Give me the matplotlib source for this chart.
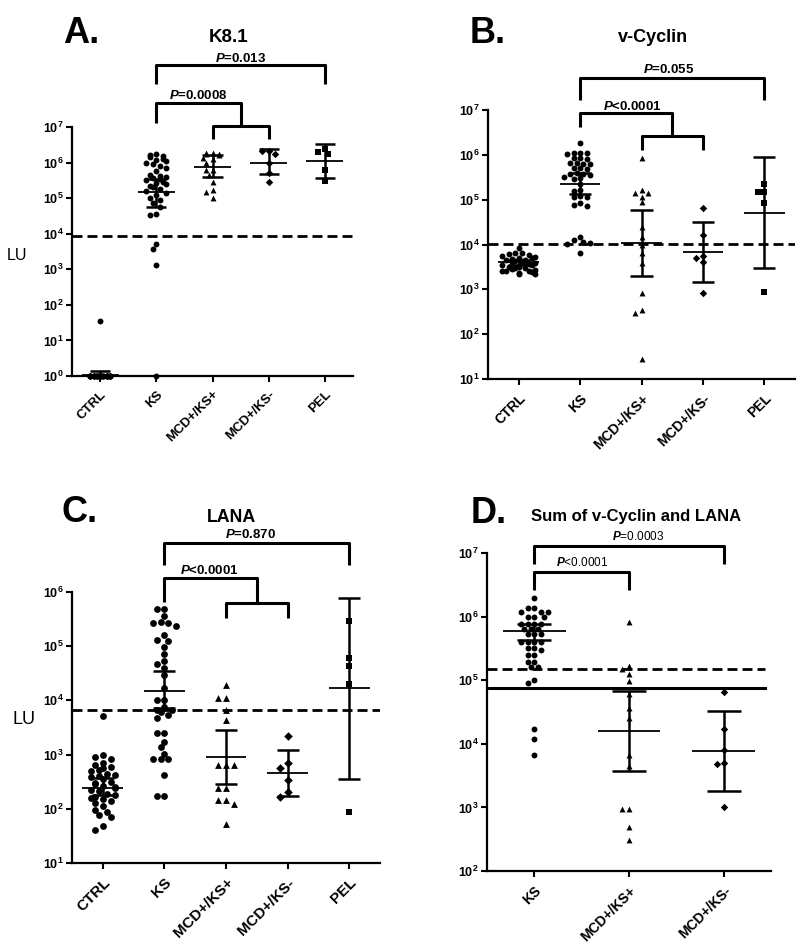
import numpy as np
import matplotlib
matplotlib.use('Agg')
import matplotlib.pyplot as plt
from matplotlib.ticker import FixedLocator, FuncFormatter, NullLocator

plt.rcParams['font.family'] = ['Liberation Sans', 'DejaVu Sans']
plt.rcParams['mathtext.fontset'] = 'custom'
plt.rcParams['mathtext.rm'] = 'Liberation Sans:bold'
plt.rcParams['mathtext.it'] = 'Liberation Sans:italic:bold'
plt.rcParams['mathtext.bf'] = 'Liberation Sans:bold'

# all values are log10(LU)
groups5 = ['CTRL', 'KS', 'MCD+/KS+', 'MCD+/KS-', 'PEL']
groups3 = ['KS', 'MCD+/KS+', 'MCD+/KS-']
markers5 = ['o', 'o', '^', 'D', 's']
markers3 = ['o', '^', 'D']

# ---- A. K8.1
k81_ctrl = [0.0, 0.0, 0.0, 0.0, 0.0, 0.0, 0.0, 0.0, 0.0, 0.0, 0.0, 0.0, 0.0, 0.0, 0.0,
            0.0, 0.0, 0.0, 0.0, 0.0, 0.0, 0.0, 0.0, 0.0, 0.0, 0.0, 0.0, 0.0, 0.0, 1.55]
k81_ks = [6.25, 6.22, 6.18, 6.15, 6.10, 6.07, 6.05, 6.00, 5.95, 5.90, 5.85, 5.75, 5.65,
          5.62, 5.60, 5.58, 5.55, 5.50, 5.45, 5.42, 5.40, 5.35, 5.30, 5.25, 5.20, 5.15,
          5.10, 5.00, 4.95, 4.85, 4.75, 4.55, 4.52, 3.71, 3.57, 3.12, 0.0]
k81_mcdks = [6.26, 6.26, 6.24, 6.24, 6.20, 6.12, 6.10, 5.98, 5.80, 5.78, 5.65, 5.45,
             5.23, 5.18, 4.99]
k81_mcd = [6.33, 6.32, 6.25, 6.00, 5.70, 5.46]
k81_pel = [6.37, 6.31, 6.24, 5.79, 5.49]
k81_mean = [0.04, 5.16, 5.87, 6.00, 6.04]
k81_lo = [0.0, 4.76, 5.60, 5.67, 5.58]
k81_hi = [0.13, 5.53, 6.21, 6.37, 6.52]
k81_cut = 3.94

# ---- B. v-Cyclin
vcyc_ctrl = [3.92, 3.82, 3.80, 3.78, 3.76, 3.75, 3.72, 3.70, 3.70, 3.68, 3.66, 3.65,
             3.64, 3.62, 3.60, 3.60, 3.58, 3.57, 3.55, 3.54, 3.52, 3.50, 3.50, 3.48,
             3.47, 3.45, 3.44, 3.42, 3.40, 3.40, 3.38, 3.36, 3.35, 3.34]
vcyc_ks = [6.26, 6.05, 6.05, 6.02, 6.03, 5.92, 5.92, 5.90, 5.82, 5.81, 5.80, 5.80,
           5.70, 5.70, 5.68, 5.60, 5.58, 5.58, 5.56, 5.50, 5.48, 5.47, 5.35, 5.22,
           5.20, 5.08, 5.06, 5.05, 4.92, 4.88, 4.86, 4.17, 4.10, 4.06, 4.03, 4.02, 3.80]
vcyc_mcdks = [5.92, 5.22, 5.14, 5.14, 5.07, 4.94, 4.40, 4.17, 3.99, 3.80, 3.58, 2.91,
              2.54, 2.48, 1.45]
vcyc_mcd = [4.81, 4.21, 3.74, 3.69, 3.60, 2.91]
vcyc_pel = [5.36, 5.18, 5.18, 4.93, 2.93]
vcyc_mean = [3.60, 5.36, 4.03, 3.83, 4.71]
vcyc_lo = [3.54, 5.12, 3.30, 3.17, 3.48]
vcyc_hi = [3.66, 5.60, 4.78, 4.51, 5.96]
vcyc_cut = 4.02

# ---- C. LANA
lana_ctrl = [3.71, 2.99, 2.95, 2.92, 2.85, 2.80, 2.78, 2.75, 2.72, 2.70, 2.65, 2.62,
             2.60, 2.58, 2.55, 2.50, 2.48, 2.45, 2.42, 2.40, 2.38, 2.35, 2.32, 2.28,
             2.25, 2.22, 2.20, 2.18, 2.15, 2.10, 2.05, 1.98, 1.95, 1.88, 1.85, 1.68, 1.60]
lana_ks = [5.68, 5.68, 5.56, 5.45, 5.42, 5.42, 5.38, 5.20, 5.12, 5.10, 4.99, 4.85,
           4.73, 4.68, 4.59, 4.47, 4.22, 4.01, 4.01, 3.88, 3.82, 3.82, 3.78, 3.73,
           3.67, 3.40, 3.40, 3.24, 3.14, 3.02, 2.91, 2.91, 2.91, 2.62, 2.24, 2.24]
lana_mcdks = [4.28, 4.05, 4.05, 3.82, 3.64, 2.81, 2.81, 2.81, 2.39, 2.39, 2.16, 2.16,
              2.09, 1.72]
lana_mcd = [3.34, 2.84, 2.75, 2.54, 2.31, 2.22]
lana_pel = [5.46, 4.79, 4.63, 4.31, 1.95]
lana_mean = [2.39, 4.18, 2.95, 2.66, 4.22]
lana_lo = [2.26, 3.86, 2.46, 2.24, 2.55]
lana_hi = [2.56, 4.54, 3.45, 3.08, 5.89]
lana_cut = 3.815

# ---- D. Sum of v-Cyclin and LANA
sum_ks = [6.29, 6.13, 6.13, 6.08, 6.08, 6.08, 6.00, 6.00, 6.00, 5.89, 5.89, 5.89,
          5.89, 5.81, 5.81, 5.81, 5.73, 5.73, 5.73, 5.60, 5.60, 5.60, 5.60, 5.50,
          5.50, 5.47, 5.40, 5.40, 5.29, 5.29, 5.21, 5.21, 5.01, 4.95, 4.23, 4.08, 3.82]
sum_mcdks = [5.91, 5.22, 5.17, 5.09, 4.99, 4.79, 4.56, 4.40, 3.82, 3.65, 2.98, 2.98,
             2.69, 2.49]
sum_mcd = [4.82, 4.23, 3.90, 3.70, 3.68, 3.01]
sum_mean = [5.77, 4.20, 3.89]
sum_lo = [5.63, 3.58, 3.26]
sum_hi = [5.88, 4.83, 4.52]
sum_cut_dash = 5.17
sum_cut_solid = 4.87

W, H = 800, 948
fig = plt.figure(figsize=(W / 100, H / 100), dpi=100)


def rect(x0, x1, ytop, ybot):
    return [x0 / W, 1 - ybot / H, (x1 - x0) / W, (ybot - ytop) / H]


def swarm(vals, ppd, ppu, d, maxk):
    # simple beeswarm in pixel space, returns x offsets in category units
    ys = np.asarray(vals, float) * ppd
    step = d * 0.6
    cands = [0.0]
    for k in range(1, maxk + 1):
        cands += [-k * step, k * step]
    placed = []
    offs = np.zeros(len(ys))
    for n, i in enumerate(np.argsort(-ys)):
        best = None
        for c in cands:
            if all((c - px) ** 2 + (ys[i] - py) ** 2 >= d * d for px, py in placed):
                best = c
                break
        if best is None:
            best = cands[n % len(cands)]
        placed.append((best, ys[i]))
        offs[i] = best
    return offs / ppu


def panel(r, ylo, yhi, groups, data, markers, mean, lo, hi, cut, lab_fs, msize, d, maxk):
    ax = fig.add_axes(r)
    n = len(groups)
    ax.set_yscale('log')
    ax.set_ylim(10.0 ** ylo, 10.0 ** yhi)
    ax.set_xlim(-0.5, n - 0.5)
    ppd = r[3] * H / (yhi - ylo)
    ppu = r[2] * W / n
    for i, (vals, m) in enumerate(zip(data, markers)):
        offs = swarm(vals, ppd, ppu, d, maxk)
        s = msize * 0.8 if m == 'D' else msize
        ax.scatter(i + offs, 10.0 ** np.asarray(vals), marker=m, s=s, c='k',
                   linewidths=0, clip_on=False, zorder=3)
        ax.hlines(10.0 ** mean[i], i - 0.33, i + 0.33, color='k', lw=1.3, zorder=4)
        ax.vlines(i, 10.0 ** lo[i], 10.0 ** hi[i], color='k', lw=1.8, zorder=4)
        ax.hlines([10.0 ** lo[i], 10.0 ** hi[i]], i - 0.18, i + 0.18, color='k',
                  lw=1.8, zorder=4)
    if cut is not None:
        ax.axhline(10.0 ** cut, color='k', lw=2.0, dashes=(3.6, 1.8), zorder=2)
    for sp in ['top', 'right']:
        ax.spines[sp].set_visible(False)
    for sp in ['left', 'bottom']:
        ax.spines[sp].set_linewidth(1.6)
    ax.yaxis.set_major_locator(FixedLocator([10.0 ** k for k in range(ylo, yhi + 1)]))
    ax.yaxis.set_minor_locator(NullLocator())
    ax.yaxis.set_major_formatter(FuncFormatter(
        lambda v, p: r'$\mathbf{10^{%d}}$' % round(np.log10(v))))
    ax.set_xticks(range(n))
    ax.set_xticklabels(groups, rotation=45, ha='right', rotation_mode='anchor',
                       fontsize=lab_fs, fontweight='bold')
    ax.tick_params(axis='both', direction='out', length=4, width=1.5, pad=2)
    ax.tick_params(axis='y', labelsize=9)
    ax.tick_params(axis='x', pad=5)
    return ax


def bracket(ax, x0, x1, y, ylegs):
    tr = ax.get_xaxis_transform()
    ax.plot([x0, x0, x1, x1], [ylegs[0], y, y, ylegs[1]], color='k', lw=2.2,
            transform=tr, clip_on=False, solid_capstyle='butt')


def ptext(ax, x, y, s, fs, weight='bold'):
    ax.text(x, y, s, transform=ax.get_xaxis_transform(), ha='center', va='baseline',
            fontsize=fs, fontweight=weight)


def ftext(x, y, s, **kw):
    fig.text(x / W, 1 - y / H, s, **kw)


# ---- A
axA = panel(rect(72, 353, 127, 376), 0, 7, groups5,
            [k81_ctrl, k81_ks, k81_mcdks, k81_mcd, k81_pel], markers5,
            k81_mean, k81_lo, k81_hi, k81_cut, 9.5, 18, 5.5, 3)
bracket(axA, 1, 4, 1.249, (1.173, 1.173))
ptext(axA, 2.5, 1.262, r'$\mathit{P}$=0.013', 9.5)
bracket(axA, 1, 2.5, 1.096, (1.016, 1.004))
bracket(axA, 2, 3, 1.004, (0.952, 0.952))
ptext(axA, 1.75, 1.111, r'$\mathit{P}$=0.0008', 9.5)

# ---- B
axB = panel(rect(488, 795, 110, 379), 1, 7, groups5,
            [vcyc_ctrl, vcyc_ks, vcyc_mcdks, vcyc_mcd, vcyc_pel], markers5,
            vcyc_mean, vcyc_lo, vcyc_hi, vcyc_cut, 10, 18, 5.5, 5)
bracket(axB, 1, 4, 1.119, (1.037, 1.037))
ptext(axB, 2.45, 1.138, r'$\mathit{P}$=0.055', 9.5)
bracket(axB, 1, 2.5, 0.989, (0.937, 0.903))
bracket(axB, 2, 3, 0.903, (0.851, 0.851))
ptext(axB, 1.85, 1.0, r'$\mathit{P}$<0.0001', 9.5)

# ---- C
axC = panel(rect(72, 380, 592, 863), 1, 6, groups5,
            [lana_ctrl, lana_ks, lana_mcdks, lana_mcd, lana_pel], markers5,
            lana_mean, lana_lo, lana_hi, lana_cut, 11, 24, 6.5, 3)
bracket(axC, 1, 4, 1.181, (1.100, 1.100))
ptext(axC, 2.4, 1.199, r'$\mathit{P}$=0.870', 9.5)
bracket(axC, 1, 2.5, 1.052, (0.963, 0.959))
bracket(axC, 2, 3, 0.959, (0.904, 0.904))
ptext(axC, 1.73, 1.066, r'$\mathit{P}$<0.0001', 9.5)

# ---- D
axD = panel(rect(487, 771, 553, 871), 2, 7, groups3,
            [sum_ks, sum_mcdks, sum_mcd], markers3,
            sum_mean, sum_lo, sum_hi, None, 10, 18, 5.5, 5)
axD.axhline(10.0 ** sum_cut_dash, xmax=0.98, color='k', lw=2.0, dashes=(3.6, 1.8), zorder=2)
axD.axhline(10.0 ** sum_cut_solid, xmax=0.98, color='k', lw=2.2, zorder=2)
bracket(axD, 0, 2, 1.022, (0.965, 0.965))
ptext(axD, 1.1, 1.041, r'$\mathit{P}$=0.0003', 8.5, 'normal')
bracket(axD, 0, 1, 0.940, (0.884, 0.884))
ptext(axD, 0.5, 0.959, r'$\mathit{P}$<0.0001', 8.5, 'normal')

# panel letters, titles, y labels
for x, y, s in [(81, 42.7, 'A.'), (488, 43, 'B.'), (80, 522, 'C.'), (489, 523, 'D.')]:
    ftext(x, y, s, fontsize=26, fontweight='bold', ha='center', va='baseline')
ftext(229, 41.7, 'K8.1', fontsize=13.5, fontweight='bold', ha='center', va='baseline')
ftext(653, 42, 'v-Cyclin', fontsize=13, fontweight='bold', ha='center', va='baseline')
ftext(232, 522, 'LANA', fontsize=12.8, fontweight='bold', ha='center', va='baseline')
ftext(636, 521, 'Sum of v-Cyclin and LANA', fontsize=12, fontweight='bold',
      ha='center', va='baseline')
ftext(16.5, 255, 'LU', fontsize=11.5, ha='center', va='center')
ftext(23.5, 720, 'LU', fontsize=13, ha='center', va='center')

fig.savefig('out.png', dpi=100)
